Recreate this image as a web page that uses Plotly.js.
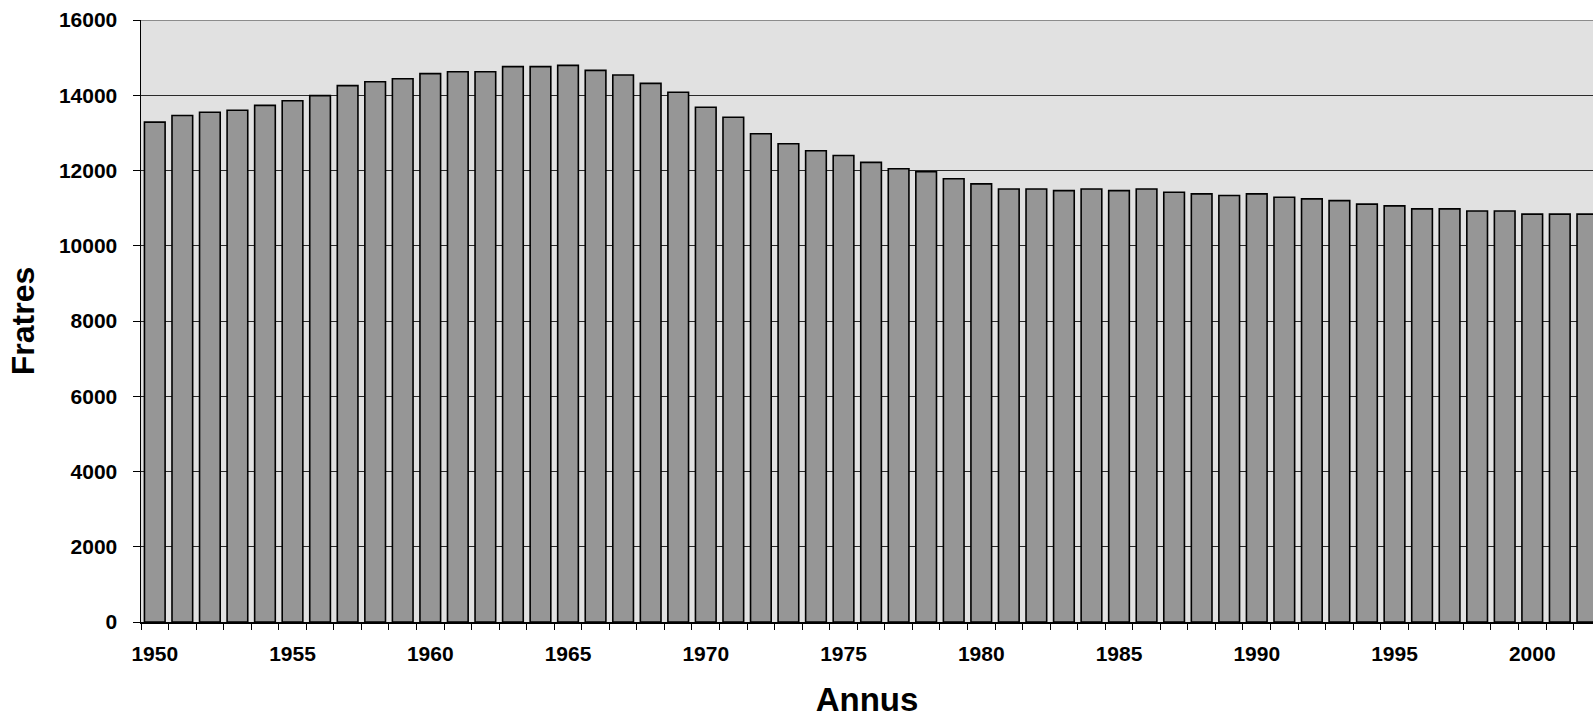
<!DOCTYPE html>
<html>
<head>
<meta charset="utf-8">
<script src="https://cdn.plot.ly/plotly-3.0.1.min.js"></script>
<style>
html,body{margin:0;padding:0;background:#fff;overflow:hidden;}
#chart{width:1593px;height:718px;}
</style>
</head>
<body>
<div id="chart"></div>
<script>
// Data
const years = [1950,1951,1952,1953,1954,1955,1956,1957,1958,1959,
               1960,1961,1962,1963,1964,1965,1966,1967,1968,1969,
               1970,1971,1972,1973,1974,1975,1976,1977,1978,1979,
               1980,1981,1982,1983,1984,1985,1986,1987,1988,1989,
               1990,1991,1992,1993,1994,1995,1996,1997,1998,1999,
               2000,2001,2002];
const fratres = [13285,13460,13550,13600,13730,13855,13990,14255,14360,14440,
                 14575,14625,14625,14760,14760,14795,14660,14540,14315,14080,
                 13680,13415,12975,12710,12525,12400,12215,12045,11965,11780,
                 11645,11510,11510,11465,11510,11465,11510,11420,11380,11335,
                 11380,11290,11245,11200,11105,11060,10980,10980,10925,10925,
                 10840,10840,10840];
const xTickVals = [1950,1955,1960,1965,1970,1975,1980,1985,1990,1995,2000];
const xTickText = ["1950","1955","1960","1965","1970","1975","1980","1985","1990","1995","2000"];
const yTickVals = [0,2000,4000,6000,8000,10000,12000,14000,16000];
const yTickText = ["0","2000","4000","6000","8000","10000","12000","14000","16000"];

const FONT = "Liberation Sans, Arial, Helvetica, sans-serif";

const trace = {
  type: "bar",
  x: years,
  y: fratres,
  marker: {color: "#969696", line: {color: "#000000", width: 1.6}},
  hoverinfo: "x+y"
};

const layout = {
  width: 1593,
  height: 718,
  margin: {l: 141, r: 0, t: 20, b: 96, pad: 0},
  paper_bgcolor: "#ffffff",
  plot_bgcolor: "#e1e1e1",
  bargap: 0.25,
  showlegend: false,
  font: {family: FONT, color: "#000"},
  xaxis: {
    type: "linear",
    range: [1949.5, 2002.205],
    tickmode: "array",
    tickvals: xTickVals,
    ticktext: xTickText,
    ticks: "",
    ticklabelstandoff: 12,
    tickfont: {family: FONT, size: 21, color: "#000", weight: "bold"},
    showgrid: false,
    zeroline: false,
    showline: true,
    linecolor: "#000",
    linewidth: 1.5,
    minor: {tick0: 1949.5, dtick: 1, ticks: "outside", ticklen: 6, tickcolor: "#000", tickwidth: 1, showgrid: false},
    title: {text: "Annus", font: {family: FONT, size: 33, color: "#000", weight: "bold"}, standoff: 27},
    automargin: false,
    fixedrange: true
  },
  yaxis: {
    range: [0, 16000],
    tickmode: "array",
    tickvals: yTickVals,
    ticktext: yTickText,
    ticks: "outside",
    ticklen: 7,
    tickcolor: "#000",
    tickwidth: 1,
    ticklabelstandoff: 11,
    tickfont: {family: FONT, size: 21, color: "#000", weight: "bold"},
    showgrid: true,
    gridcolor: "#2a2a2a",
    gridwidth: 1,
    zeroline: false,
    showline: true,
    linecolor: "#000",
    linewidth: 1.5,
    title: {text: "Fratres", font: {family: FONT, size: 32, color: "#000", weight: "bold"}, standoff: 14},
    automargin: false,
    fixedrange: true
  },
  shapes: [{
    type: "line", xref: "paper", yref: "y", x0: 0, x1: 1, y0: 16000, y1: 16000,
    line: {color: "#8c8c8c", width: 2}, layer: "above"
  }]
};

Plotly.newPlot("chart", [trace], layout, {displayModeBar: false, staticPlot: true});
</script>
</body>
</html>
